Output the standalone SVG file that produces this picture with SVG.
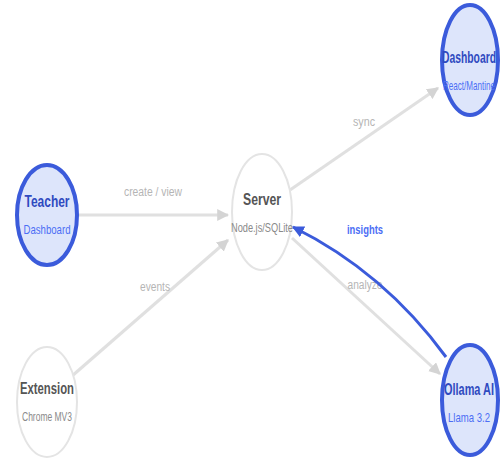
<svg xmlns="http://www.w3.org/2000/svg" width="501" height="464" viewBox="0 0 501 464">
<style>
.bg{fill:#ffffff}
.nb{fill:#dde5fb;stroke:#3b5bdb;stroke-width:4}
.nw{fill:#ffffff;stroke:#e4e4e4;stroke-width:2}
.t{font-family:"Liberation Sans",Arial,sans-serif;text-anchor:middle}
.tb{font-size:16px;font-weight:bold;fill:#2f4ac0}
.sb{font-size:13px;fill:#4c6ef5}
.tw{font-size:16px;font-weight:bold;fill:#555555}
.sw{font-size:13px;fill:#8a8a8a}
.e{fill:none;stroke:#e0e0e0;stroke-width:3}
.eb{fill:none;stroke:#3b5bdb;stroke-width:3}
.el{font-size:12px;fill:#b5b5b5}
.elb{font-size:12px;font-weight:bold;fill:#4c6ef5}
</style>
<defs>
<marker id="ag" viewBox="0 0 10 10" refX="9" refY="5" markerWidth="4" markerHeight="4" orient="auto"><path d="M0,0 L10,5 L0,10 z" fill="#d4d4d4"/></marker>
<marker id="ab" viewBox="0 0 10 10" refX="9" refY="5" markerWidth="4" markerHeight="4" orient="auto"><path d="M0,0 L10,5 L0,10 z" fill="#3b5bdb"/></marker>
</defs>
<rect class="bg" x="0" y="0" width="501" height="464"/>
<g id="connectors">
<line class="e" x1="78" y1="215" x2="228" y2="215" marker-end="url(#ag)"/>
<text class="t el" x="153" y="196" textLength="58" lengthAdjust="spacingAndGlyphs">create / view</text>
<line class="e" x1="72" y1="376" x2="228" y2="240" marker-end="url(#ag)"/>
<text class="t el" x="155" y="291" textLength="30" lengthAdjust="spacingAndGlyphs">events</text>
<line class="e" x1="290" y1="190" x2="438" y2="88" marker-end="url(#ag)"/>
<text class="t el" x="364" y="126" textLength="22" lengthAdjust="spacingAndGlyphs">sync</text>
<line class="e" x1="292" y1="238" x2="440" y2="374" marker-end="url(#ag)"/>
<text class="t el" x="365" y="289" textLength="35" lengthAdjust="spacingAndGlyphs">analyze</text>
<path class="eb" d="M446,357 Q384,272 293,227" marker-end="url(#ab)"/>
<text class="t elb" x="365" y="234" textLength="36" lengthAdjust="spacingAndGlyphs">insights</text>
</g>
<g id="teacher">
<ellipse class="nb" cx="47" cy="215" rx="30" ry="50"/>
<text class="t tb" x="47" y="207" textLength="45" lengthAdjust="spacingAndGlyphs">Teacher</text>
<text class="t sb" x="47" y="234" textLength="47" lengthAdjust="spacingAndGlyphs">Dashboard</text>
</g>
<g id="extension">
<ellipse class="nw" cx="47" cy="402" rx="30" ry="55"/>
<text class="t tw" x="47" y="394" textLength="54" lengthAdjust="spacingAndGlyphs">Extension</text>
<text class="t sw" x="47" y="421" textLength="50" lengthAdjust="spacingAndGlyphs">Chrome MV3</text>
</g>
<g id="server">
<ellipse class="nw" cx="262" cy="212" rx="30" ry="58"/>
<text class="t tw" x="262" y="205" textLength="38" lengthAdjust="spacingAndGlyphs">Server</text>
<text class="t sw" x="262" y="232" textLength="62" lengthAdjust="spacingAndGlyphs">Node.js/SQLite</text>
</g>
<g id="dashboard">
<ellipse class="nb" cx="470" cy="60" rx="28" ry="55"/>
<text class="t tb" x="469" y="63" textLength="54" lengthAdjust="spacingAndGlyphs">Dashboard</text>
<text class="t sb" x="469" y="90" textLength="52" lengthAdjust="spacingAndGlyphs">React/Mantine</text>
</g>
<g id="ollama">
<ellipse class="nb" cx="470" cy="400" rx="28" ry="55"/>
<text class="t tb" x="469" y="395" textLength="50" lengthAdjust="spacingAndGlyphs">Ollama AI</text>
<text class="t sb" x="469" y="422" textLength="42" lengthAdjust="spacingAndGlyphs">Llama 3.2</text>
</g>
</svg>
